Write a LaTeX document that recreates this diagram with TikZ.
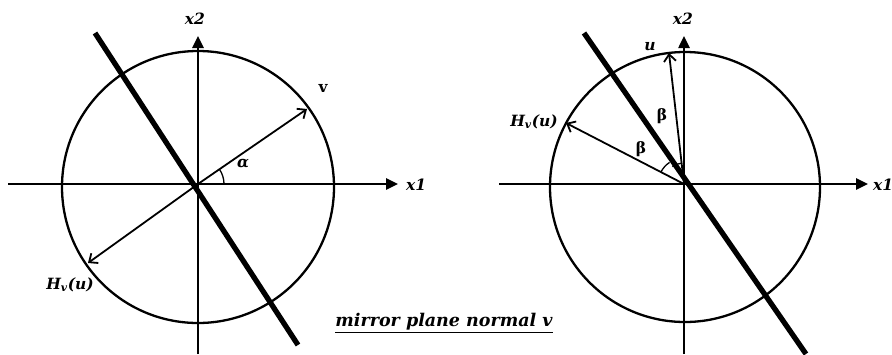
\documentclass[tikz,border=0pt]{standalone}
\usepackage{fontspec}
\setmainfont{DejaVu Serif}
\usetikzlibrary{arrows.meta}
\begin{document}
\begin{tikzpicture}[x=1pt,y=-1pt,
  axis/.style={line width=2.5pt,-{Triangle[length=12pt,width=11pt]}},
  circ/.style={line width=2.3pt},
  mirror/.style={line width=5.3pt},
  vec/.style={line width=1.8pt,-{Straight Barb[length=7pt,width=12pt,line width=1.8pt]}},
  ang/.style={line width=1.3pt},
  lbl/.style={font=\fontsize{15.5}{17}\selectfont\bfseries\itshape, inner sep=0pt},
  uplbl/.style={font=\fontsize{15.5}{17}\selectfont\bfseries, inner sep=0pt},
  caplbl/.style={font=\fontsize{17.5}{19}\selectfont\bfseries\itshape, inner sep=0pt}]
\useasboundingbox (0,0) rectangle (892,354);
\clip (0,0) rectangle (892,354);
% ---------- left diagram ----------
\coordinate (O1) at (198,184);
\coordinate (L1a) at (8,184);
\coordinate (L1b) at (398,184);
\coordinate (V1a) at (198,354);
\coordinate (V1b) at (198,36);
\coordinate (M1a) at (95,33);
\coordinate (M1b) at (298,345);
\coordinate (v1) at (307,109);
\coordinate (h1) at (88,263);
\draw[circ] (198,187) circle[radius=136];
\draw[axis] (L1a) -- (L1b);
\draw[axis] (V1a) -- (V1b);
\draw[mirror] (M1a) -- (M1b);
\draw[vec] (O1) -- (v1);
\draw[vec] (O1) -- (h1);
\draw[ang] ([shift={(0:26)}]O1) arc[start angle=0,end angle=-34.5,radius=26];
\node[lbl] (x2l) at (195,19) {x2};
\node[lbl,anchor=west] (x1l) at (406,185) {x1};
\node[uplbl] (vl) at (323,88) {v};
\node[lbl] (al) at (243,164) {α};
\node[lbl] (hl) at (70,285) {H\textsubscript{v}(u)};
\node[caplbl] (cap) at (444,323) {\underline{mirror plane normal v}};
% ---------- right diagram ----------
\coordinate (O2) at (684,184);
\coordinate (L2a) at (499,184);
\coordinate (L2b) at (868,184);
\coordinate (V2a) at (684,354);
\coordinate (V2b) at (684,36);
\coordinate (M2a) at (584,33);
\coordinate (M2b) at (806,354);
\coordinate (u2) at (669,53);
\coordinate (h2) at (566,123);
\draw[circ] (685,187) circle[radius=135];
\draw[axis] (L2a) -- (L2b);
\draw[axis] (V2a) -- (V2b);
\draw[mirror] (M2a) -- (M2b);
\draw[vec] (O2) -- (u2);
\draw[vec] (O2) -- (h2);
\draw[ang] ([shift={(-123.7:26)}]O2) arc[start angle=-123.7,end angle=-153,radius=26];
\draw[ang] ([shift={(-96.6:21)}]O2) arc[start angle=-96.6,end angle=-123.7,radius=21];
\node[lbl] (x2r) at (683,19) {x2};
\node[lbl,anchor=west] (x1r) at (873,185) {x1};
\node[lbl] (ul) at (650,47) {u};
\node[lbl] (hr) at (534,122) {H\textsubscript{v}(u)};
\node[uplbl] (b1) at (662,116) {β};
\node[uplbl] (b2) at (641,149) {β};
\end{tikzpicture}
\end{document}
